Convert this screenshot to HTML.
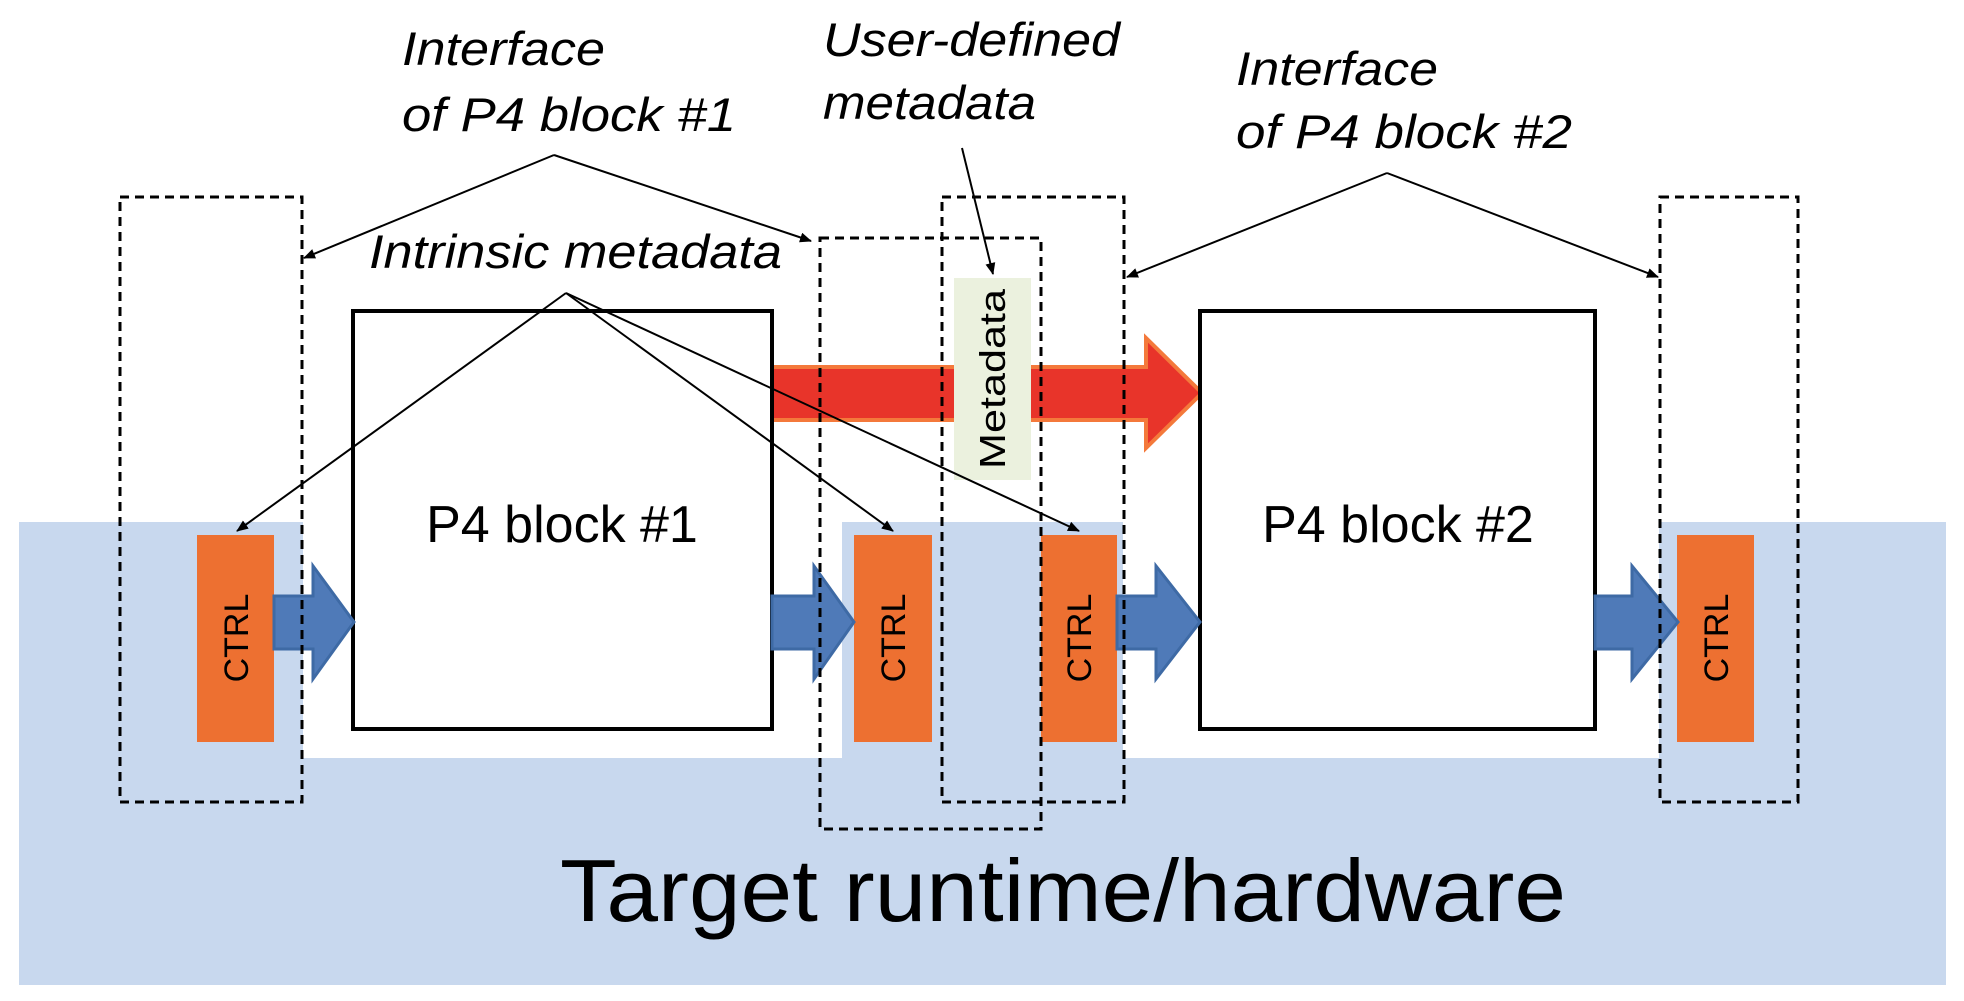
<!DOCTYPE html>
<html><head><meta charset="utf-8"><style>
html,body{margin:0;padding:0;background:#fff;}
svg{display:block;}
text{font-family:"Liberation Sans",sans-serif;}
</style></head><body>
<svg width="1964" height="1001" viewBox="0 0 1964 1001" xmlns="http://www.w3.org/2000/svg">
<defs>
<marker id="ah" markerWidth="12" markerHeight="10" refX="11" refY="5" orient="auto" markerUnits="userSpaceOnUse">
<path d="M0,0 L12,5 L0,10 z" fill="#000"/>
</marker>
</defs>
<rect x="19" y="522" width="1927" height="463" fill="#c8d8ee"/>
<rect x="303" y="522" width="539" height="236" fill="#fff"/>
<rect x="1123" y="522" width="536" height="236" fill="#fff"/>

<path d="M772,367 L1146,367 L1146,338 L1202,393 L1146,448 L1146,420 L772,420 z" fill="#e8342a" stroke="#f4793b" stroke-width="4"/>
<rect x="954" y="278" width="77" height="202" fill="#ebf1de"/>
<text transform="translate(1005,379) rotate(-90)" font-size="36" text-anchor="middle" fill="#000" textLength="180" lengthAdjust="spacingAndGlyphs">Metadata</text>

<rect x="353" y="311" width="419" height="418" fill="#fff" stroke="#000" stroke-width="4"/>
<rect x="1200" y="311" width="395" height="418" fill="#fff" stroke="#000" stroke-width="4"/>
<text x="562" y="542" font-size="52" text-anchor="middle">P4 block #1</text>
<text x="1398" y="542" font-size="52" text-anchor="middle">P4 block #2</text>

<g fill="#ed7031">
<rect x="197" y="535" width="77" height="207"/>
<rect x="854" y="535" width="78" height="207"/>
<rect x="1041" y="535" width="76" height="207"/>
<rect x="1677" y="535" width="77" height="207"/>
</g>
<g font-size="34" text-anchor="middle" fill="#000">
<text transform="translate(248,638) rotate(-90)">CTRL</text>
<text transform="translate(905,638) rotate(-90)">CTRL</text>
<text transform="translate(1091,638) rotate(-90)">CTRL</text>
<text transform="translate(1728,638) rotate(-90)">CTRL</text>
</g>

<g fill="#4f7ab8" stroke="#3e6aa5" stroke-width="3">
<path d="M274,596 L313,596 L313,566 L354,622 L313,679 L313,649 L274,649 z"/>
<path d="M772,596 L814,596 L814,566 L854,622 L814,679 L814,649 L772,649 z"/>
<path d="M1117,596 L1156,596 L1156,566 L1200,622 L1156,679 L1156,649 L1117,649 z"/>
<path d="M1595,596 L1632,596 L1632,566 L1678,622 L1632,679 L1632,649 L1595,649 z"/>
</g>

<g fill="none" stroke="#000" stroke-width="3" stroke-dasharray="9,6">
<rect x="120" y="197" width="182" height="605"/>
<rect x="820" y="238" width="221" height="591"/>
<rect x="942" y="197" width="182" height="605"/>
<rect x="1660" y="197" width="138" height="605"/>
</g>

<g stroke="#000" stroke-width="2" fill="none" marker-end="url(#ah)">
<path d="M554,155 L304,258"/>
<path d="M554,155 L811,241"/>
<path d="M566,293 L237,531"/>
<path d="M566,293 L893,531"/>
<path d="M566,293 L1079,531"/>
<path d="M962,148 L993,274"/>
<path d="M1387,173 L1127,277"/>
<path d="M1387,173 L1658,277"/>
</g>

<g font-size="47" font-style="italic" fill="#000" lengthAdjust="spacingAndGlyphs">
<text x="402" y="65" textLength="203" lengthAdjust="spacingAndGlyphs">Interface</text>
<text x="402" y="131" textLength="334" lengthAdjust="spacingAndGlyphs">of P4 block #1</text>
<text x="823" y="56" textLength="297" lengthAdjust="spacingAndGlyphs">User-defined</text>
<text x="823" y="119" textLength="213" lengthAdjust="spacingAndGlyphs">metadata</text>
<text x="1236" y="85" textLength="202" lengthAdjust="spacingAndGlyphs">Interface</text>
<text x="1236" y="148" textLength="336" lengthAdjust="spacingAndGlyphs">of P4 block #2</text>
<text x="369" y="268" textLength="413" lengthAdjust="spacingAndGlyphs">Intrinsic metadata</text>
</g>
<text x="560" y="921" font-size="88" fill="#000" textLength="1006" lengthAdjust="spacingAndGlyphs">Target runtime/hardware</text>
</svg>
</body></html>
